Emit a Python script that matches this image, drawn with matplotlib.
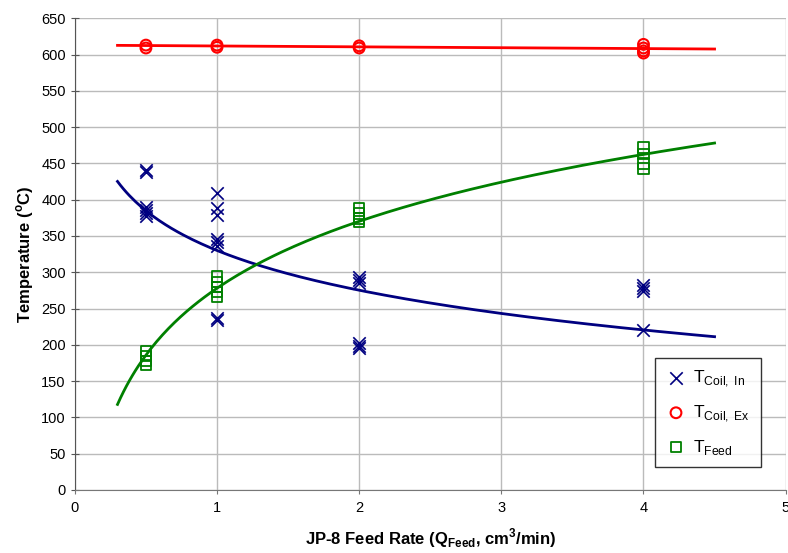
import numpy as np
import matplotlib
matplotlib.use("Agg")
import matplotlib.pyplot as plt

plt.rcParams["font.family"] = ["Liberation Sans", "DejaVu Sans"]

# measured points (feed rate, cm3/min -> temperature, C)
coil_in_x = [0.5] * 6 + [1] * 8 + [2] * 6 + [4] * 4
coil_in_y = [441, 438, 390, 386, 381, 377,
             409, 388, 379, 346, 341, 336, 237, 234,
             293, 289, 285, 203, 199, 195,
             283, 278, 274, 220]

coil_ex_x = [0.5, 0.5, 1, 1, 2, 2, 4, 4, 4, 4]
coil_ex_y = [613, 609, 613, 610, 612, 609, 614, 609, 605, 602]

feed_x = [0.5] * 4 + [1] * 5 + [2] * 4 + [4] * 4
feed_y = [191, 185, 178, 172,
          294, 287, 280, 273, 266,
          389, 381, 374, 370,
          472, 463, 450, 443]

# trendline parameters: y = a + b*ln(x) (log), y = a + b*x (red)
coil_in_fit = (330.0, -79.0)
feed_fit = (278.0, 133.0)
coil_ex_fit = (613.0, -1.2)
fit_range = (0.3, 4.5)

NAVY = "#000080"
RED = "#ff0000"
GREEN = "#008000"

fig = plt.figure(figsize=(7.88, 5.53), dpi=100)
ax = fig.add_axes([0.095, 0.114, 0.902, 0.853])

xs = np.linspace(*fit_range, 200)
ax.plot(xs, coil_in_fit[0] + coil_in_fit[1] * np.log(xs), color=NAVY, lw=2)
ax.plot(xs, feed_fit[0] + feed_fit[1] * np.log(xs), color=GREEN, lw=2)
ax.plot(xs, coil_ex_fit[0] + coil_ex_fit[1] * xs, color=RED, lw=2)

ax.scatter(coil_in_x, coil_in_y, marker="x", s=80, color=NAVY, linewidths=1.2,
           label=r"T$_{\mathregular{Coil,\;In}}$", zorder=3)
ax.scatter(coil_ex_x, coil_ex_y, marker="o", s=60, facecolors="none",
           edgecolors=RED, linewidths=1.5, label=r"T$_{\mathregular{Coil,\;Ex}}$", zorder=3)
ax.scatter(feed_x, feed_y, marker="s", s=55, facecolors="none",
           edgecolors=GREEN, linewidths=1.3, label=r"T$_{\mathregular{Feed}}$", zorder=3)

ax.set_xlim(0, 5)
ax.set_ylim(0, 650)
ax.set_xticks(range(0, 6))
ax.set_yticks(range(0, 651, 50))
ax.grid(True, color="#bbbbbb", lw=1)
ax.set_axisbelow(True)
for s in ("top", "right"):
    ax.spines[s].set_visible(False)
ax.spines["left"].set_color("#555555")
ax.spines["bottom"].set_color("#777777")
ax.tick_params(axis="y", direction="inout", length=6, color="#555555", labelsize=10.5)
ax.tick_params(axis="x", direction="out", length=3, color="#777777", labelsize=10.5, pad=5)

ax.set_xlabel(r"JP-8 Feed Rate (Q$_{\mathregular{Feed}}$, cm$^{\mathregular{3}}$/min)",
              fontsize=12, fontweight="bold", labelpad=8)
ax.set_ylabel(r"Temperature ($^{\mathregular{o}}$C)", fontsize=12, fontweight="bold")

leg = ax.legend(loc="lower right", bbox_to_anchor=(0.977, 0.03), frameon=True,
                fancybox=False, edgecolor="black", fontsize=12.5, labelspacing=0.8,
                handletextpad=0.4, borderpad=0.6, handlelength=1.2, scatterpoints=1)
leg.get_frame().set_linewidth(1.0)

fig.savefig("out.png", dpi=100)
